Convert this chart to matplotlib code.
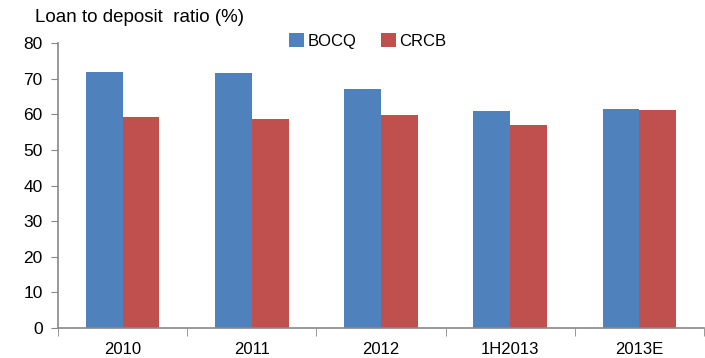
import matplotlib
matplotlib.use("Agg")
import matplotlib.pyplot as plt
import numpy as np

categories = ["2010", "2011", "2012", "1H2013", "2013E"]
bocq = [71.9, 71.5, 67.1, 60.8, 61.6]
crcb = [59.2, 58.6, 59.8, 56.9, 61.3]
yticks = [0, 10, 20, 30, 40, 50, 60, 70, 80]

plt.rcParams['font.family'] = ['Liberation Sans', 'DejaVu Sans']

fig = plt.figure(figsize=(7.05, 3.58), dpi=100)
ax = fig.add_axes([58/705, 30/358, (704-58)/705, (328-43)/358])

x = np.arange(len(categories))
w = 0.285
ax.bar(x - w/2, bocq, w, color="#4F81BD", label="BOCQ")
ax.bar(x + w/2, crcb, w, color="#C0504D", label="CRCB")

ax.set_xlim(-0.5, len(categories) - 0.5)
ax.set_ylim(0, 80)
ax.set_yticks(yticks)
ax.set_yticklabels([str(v) for v in yticks], fontsize=12.5)
ax.set_xticks(x)
ax.set_xticklabels(categories, fontsize=12)
ax.set_xticks(np.arange(len(categories) + 1) - 0.5, minor=True)
ax.tick_params(axis='x', which='major', length=0, pad=10)
ax.tick_params(axis='x', which='minor', length=6, direction='out', color='#888888')
ax.tick_params(axis='y', length=5, direction='out', color='#888888', pad=6)

for s in ['top', 'right']:
    ax.spines[s].set_visible(False)
for s in ['left', 'bottom']:
    ax.spines[s].set_color('#888888')
    ax.spines[s].set_linewidth(1.2)

fig.text(35/705, 1 - 18/358, "Loan to deposit  ratio (%)", fontsize=13.5, va='center', ha='left')

leg = ax.legend(loc='upper left', bbox_to_anchor=(289/705, 1 - 33/358), bbox_transform=fig.transFigure,
                ncol=2, frameon=False, fontsize=12, handlelength=0.9, handleheight=0.9,
                columnspacing=1.5, handletextpad=0.2, borderaxespad=0, borderpad=0)

fig.savefig("out.png", dpi=100)
